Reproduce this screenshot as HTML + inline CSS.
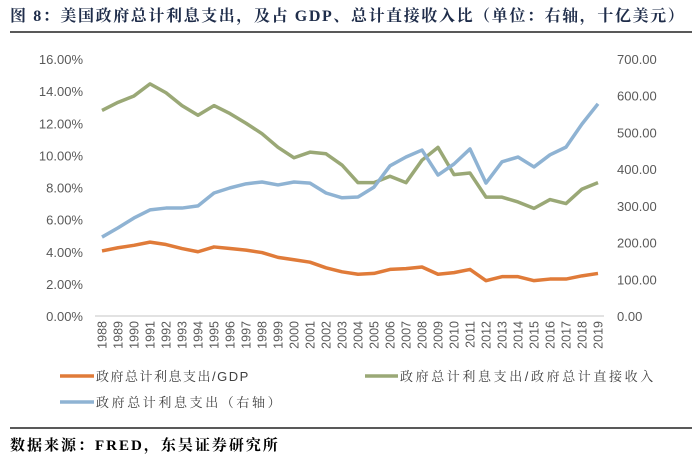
<!DOCTYPE html>
<html><head><meta charset="utf-8"><style>
body{margin:0;background:#fff;width:700px;height:468px;overflow:hidden;font-family:"Liberation Sans","Noto Sans CJK SC",sans-serif}
svg text{font-family:"Liberation Sans","Noto Sans CJK SC",sans-serif}
</style></head><body>
<svg width="700" height="468">
<text x="10" y="21" font-size="16" font-weight="bold" fill="#1f2d4a" letter-spacing="1.6" style="font-family:'Liberation Serif','Noto Serif CJK SC',serif">图 8：美国政府总计利息支出，及占 GDP、总计直接收入比（单位：右轴，十亿美元）</text>
<line x1="10" y1="32" x2="692" y2="32" stroke="#222" stroke-width="1.5"/>
<line x1="95" y1="316" x2="604" y2="316" stroke="#d9d9d9" stroke-width="1.5"/>
<g id="yl"></g>
<g id="yr"></g>
<g id="xl"></g>
<g id="lines"></g>
<g>
<g><line x1="60" y1="376" x2="94" y2="376" stroke="#e07b39" stroke-width="3.5"/><text x="96" y="381" font-size="13" fill="#404040" letter-spacing="1.5" style="font-family:'Liberation Sans','Noto Serif CJK SC',serif">政府总计利息支出/GDP</text></g>
<g><line x1="365" y1="376" x2="398" y2="376" stroke="#9aa876" stroke-width="3.5"/><text x="400" y="381" font-size="13" fill="#404040" letter-spacing="2.6" style="font-family:'Liberation Sans','Noto Serif CJK SC',serif">政府总计利息支出/政府总计直接收入</text></g>
<g><line x1="60" y1="402" x2="94" y2="402" stroke="#8fb3d3" stroke-width="3.5"/><text x="96" y="407" font-size="13" fill="#404040" letter-spacing="2.6" style="font-family:'Liberation Sans','Noto Serif CJK SC',serif">政府总计利息支出（右轴）</text></g>
</g>
<line x1="10" y1="428" x2="692" y2="428" stroke="#222" stroke-width="1.5"/>
<text x="10" y="450" font-size="15" font-weight="bold" fill="#000" letter-spacing="2" style="font-family:'Liberation Serif','Noto Serif CJK SC',serif">数据来源：FRED，东吴证券研究所</text>
</svg>
<script>
const years=[1988,1989,1990,1991,1992,1993,1994,1995,1996,1997,1998,1999,2000,2001,2002,2003,2004,2005,2006,2007,2008,2009,2010,2011,2012,2013,2014,2015,2016,2017,2018,2019];
const gdpPct=[4.05,4.25,4.4,4.6,4.45,4.2,4.0,4.3,4.2,4.1,3.95,3.65,3.5,3.35,3.0,2.75,2.6,2.65,2.9,2.95,3.05,2.6,2.7,2.9,2.2,2.45,2.45,2.2,2.3,2.3,2.5,2.65];
const incomePct=[12.8,13.3,13.7,14.45,13.9,13.1,12.5,13.1,12.6,12.0,11.35,10.5,9.85,10.2,10.1,9.4,8.3,8.3,8.7,8.3,9.7,10.5,8.8,8.9,7.4,7.4,7.1,6.7,7.25,7.0,7.9,8.3];
const amount=[215,240,267,289,294,294,300,335,349,360,365,357,365,362,335,322,324,351,409,433,452,384,414,455,362,420,433,406,439,460,523,578];
const leftTicks=[0,2,4,6,8,10,12,14,16];
const rightTicks=[0,100,200,300,400,500,600,700];
const NS="http://www.w3.org/2000/svg";
const x0=102,x1=598,yT=59,yB=316;
const X=i=>x0+(x1-x0)*i/(years.length-1);
const YL=v=>yB-(yB-yT)*v/16;
const YR=v=>yB-(yB-yT)*v/700;
function mk(tag,attrs,parent,txt){const e=document.createElementNS(NS,tag);for(const k in attrs)e.setAttribute(k,attrs[k]);if(txt!==undefined)e.textContent=txt;parent.appendChild(e);return e;}
const yl=document.getElementById('yl'),yr=document.getElementById('yr'),xl=document.getElementById('xl'),lg=document.getElementById('lines');
leftTicks.forEach(v=>{const t=mk('text',{x:83,y:YL(v)+5,'font-size':13,fill:'#595959','text-anchor':'end'},yl,v.toFixed(2)+'%');

});
rightTicks.forEach(v=>{const t=mk('text',{x:617,y:YR(v)+5,'font-size':13,fill:'#595959'},yr,v.toFixed(2));

});
years.forEach((y,i)=>{const t=mk('text',{x:0,y:0,'font-size':12.5,fill:'#595959','text-anchor':'end',transform:`translate(${X(i)+4.5},321) rotate(-90)`},xl,String(y));

});
function line(vals,Y,color,name){const p=mk('polyline',{points:vals.map((v,i)=>X(i)+','+Y(v)).join(' '),fill:'none',stroke:color,'stroke-width':3.5,'stroke-linejoin':'round'},lg);

}
line(incomePct,YL,'#9aa876','line-interest-to-income');
line(amount,YR,'#8fb3d3','line-interest-amount');
line(gdpPct,YL,'#e07b39','line-interest-to-gdp');
</script>
</body></html>
